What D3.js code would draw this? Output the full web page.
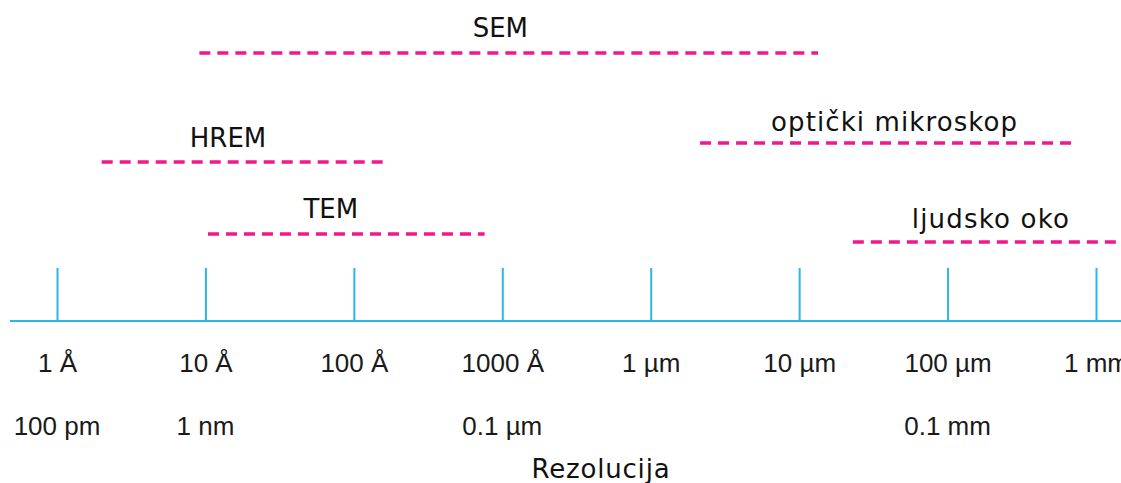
<!DOCTYPE html>
<html><head><meta charset="utf-8">
<script src="https://cdn.jsdelivr.net/npm/d3@7"></script>
<style>body{margin:0;background:#fff;overflow:hidden}svg{display:block}</style>
</head><body>
<script>
// Data (resolution in metres)
const tickValues = [1e-10, 1e-9, 1e-8, 1e-7, 1e-6, 1e-5, 1e-4, 1e-3];
const tickLabels = ["1 Å", "10 Å", "100 Å", "1000 Å", "1 µm", "10 µm", "100 µm", "1 mm"];
const altValues = [1e-10, 1e-9, 1e-7, 1e-4];
const altLabels = ["100 pm", "1 nm", "0.1 µm", "0.1 mm"];
const instruments = ["SEM", "HREM", "TEM", "optički mikroskop", "ljudsko oko"];
const rangeMin = [9.1e-10, 2.0e-10, 1.04e-9, 2.15e-6, 2.3e-5];
const rangeMax = [1.34e-5, 1.57e-8, 7.6e-8, 7.4e-4, 1.5e-3];
const labelAt = [9.7e-8, 1.42e-9, 7.0e-9, 4.4e-5, 1.96e-4];
const axisTitle = "Rezolucija";

// Layout
const W = 1121, H = 483;
const lineY = [53, 162, 234, 143, 242];
const labelY = [37, 147, 218, 131, 228];
const labelSpacing = [0, 0, 0, 1.1, 1.2];
const axisY = 321;

const svg = d3.select("body").append("svg").attr("width", W).attr("height", H);
const x = d3.scaleLog().domain([1e-10, 1e-3]).range([57, 1096]);

const pink = "#f0188c", blue = "#2cb5e8";

// axis baseline
svg.append("line").attr("x1", 10).attr("x2", W).attr("y1", axisY).attr("y2", axisY)
  .attr("stroke", blue).attr("stroke-width", 2);

const axis = d3.axisBottom(x).tickValues(tickValues)
  .tickFormat((d, i) => tickLabels[i]).tickSizeInner(-53).tickSizeOuter(0).tickPadding(33);
const g = svg.append("g").attr("transform", `translate(0,${axisY})`).call(axis);
g.select(".domain").remove();
g.selectAll(".tick line").attr("stroke", blue).attr("stroke-width", 2);
g.selectAll(".tick text").attr("fill", "#1a1a1a").attr("font-family", "Liberation Sans, Arial, sans-serif")
  .attr("font-size", 26).attr("dy", "0.71em");

svg.append("g").selectAll("text").data(altValues).join("text")
  .attr("x", d => x(d)).attr("y", 435).attr("text-anchor", "middle")
  .attr("font-family", "Liberation Sans, Arial, sans-serif").attr("font-size", 26).attr("fill", "#1a1a1a")
  .text((d, i) => altLabels[i]);

svg.append("text").attr("x", 601).attr("y", 478).attr("text-anchor", "middle")
  .attr("font-family", "DejaVu Sans, sans-serif").attr("font-size", 26).attr("fill", "#111")
  .attr("letter-spacing", 0.8)
  .text(axisTitle);

// instrument ranges
svg.append("g").selectAll("line").data(instruments).join("line")
  .attr("x1", (d, i) => x(rangeMin[i])).attr("x2", (d, i) => x(rangeMax[i]))
  .attr("y1", (d, i) => lineY[i]).attr("y2", (d, i) => lineY[i])
  .attr("stroke", pink).attr("stroke-width", 3.5).attr("stroke-dasharray", "11,7");

svg.append("g").selectAll("text").data(instruments).join("text")
  .attr("x", (d, i) => x(labelAt[i])).attr("y", (d, i) => labelY[i]).attr("text-anchor", "middle")
  .attr("font-family", "DejaVu Sans, sans-serif").attr("font-size", 26).attr("fill", "#111")
  .attr("letter-spacing", (d, i) => labelSpacing[i])
  .text(d => d);
</script>
</body></html>
